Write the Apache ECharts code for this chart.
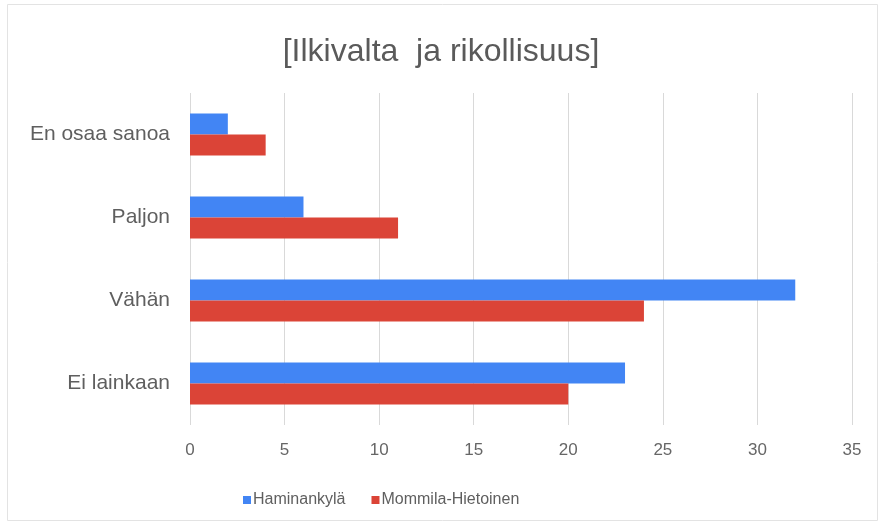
<!DOCTYPE html>
<html>
<head>
<meta charset="utf-8">
<script src="https://cdn.jsdelivr.net/npm/echarts@6/dist/echarts.min.js"></script>
<style>
  html, body { margin: 0; padding: 0; background: #fff; }
  #chart { width: 884px; height: 527px; }
</style>
</head>
<body>
<div id="chart"></div>
<script>
// luokat ylhäältä alas
var categories = ['En osaa sanoa', 'Paljon', 'Vähän', 'Ei lainkaan']
var seriesNames = ['Haminankylä', 'Mommila-Hietoinen']
var haminankyla = [2, 6, 32, 23]
var mommila = [4, 11, 24, 20]
var xTicks = [0, 5, 10, 15, 20, 25, 30, 35]

var font = "'Liberation Sans', Arial, sans-serif"
var textColor = '#5f5f5f'

var chart = echarts.init(document.getElementById('chart'))
chart.setOption({
  animation: false,
  color: ['#4285F4', '#DB4437'],
  title: {
    text: '[Ilkivalta  ja rikollisuus]',
    left: 436,
    top: 31,
    textAlign: 'center',
    textStyle: { fontFamily: font, fontSize: 32, fontWeight: 'normal', color: '#5a5a5a' }
  },
  graphic: [{
    type: 'rect',
    shape: { x: 7.5, y: 4.5, width: 870, height: 516 },
    style: { fill: 'none', stroke: '#e3e3e3', lineWidth: 1 },
    silent: true
  }],
  legend: {
    data: seriesNames,
    left: 238,
    top: 487,
    itemWidth: 8,
    itemHeight: 8,
    itemGap: 26,
    icon: 'rect',
    textStyle: { fontFamily: font, fontSize: 16, color: textColor, padding: [0, 0, 0, -3] }
  },
  grid: {
    left: 190,
    right: 32,
    top: 93,
    bottom: 102
  },
  xAxis: {
    type: 'value',
    min: xTicks[0],
    max: xTicks[xTicks.length - 1],
    interval: 5,
    axisLine: { show: false },
    axisTick: { show: false },
    axisLabel: { fontFamily: font, fontSize: 17, color: '#666', margin: 17 },
    splitLine: { show: true, lineStyle: { color: '#d9d9d9', width: 1 } }
  },
  yAxis: {
    type: 'category',
    data: categories,
    inverse: true,
    axisLine: { show: false },
    axisTick: { show: false },
    axisLabel: { fontFamily: font, fontSize: 21, color: textColor, margin: 20 }
  },
  series: [
    {
      name: seriesNames[0],
      type: 'bar',
      data: haminankyla,
      barWidth: 21,
      barGap: '0%'
    },
    {
      name: seriesNames[1],
      type: 'bar',
      data: mommila,
      barWidth: 21,
      barGap: '0%'
    }
  ]
})
</script>
</body>
</html>
